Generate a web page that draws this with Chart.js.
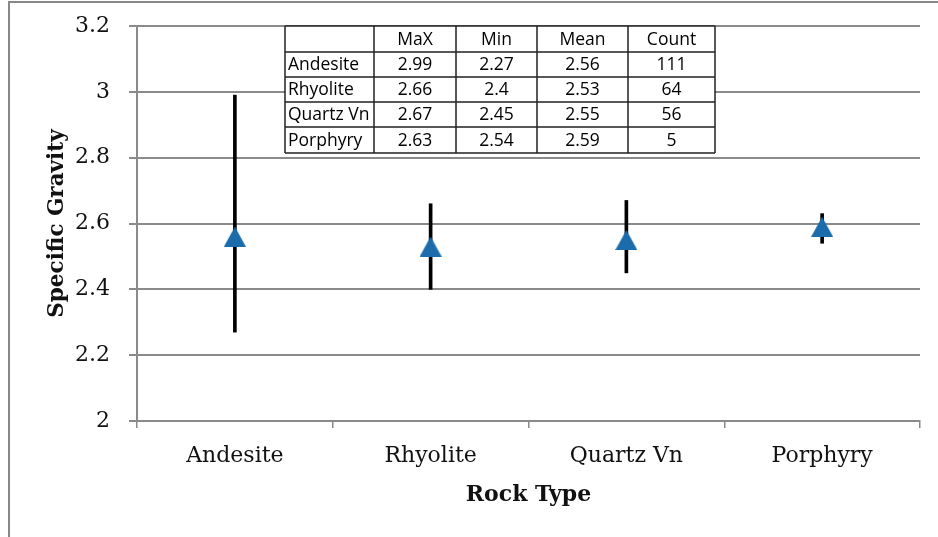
<!DOCTYPE html>
<html>
<head>
<meta charset="utf-8">
<title>Specific Gravity by Rock Type</title>
<script src="https://cdn.jsdelivr.net/npm/chart.js@4/dist/chart.umd.min.js"></script>
<style>
  html, body { margin: 0; padding: 0; background: #ffffff; }
  canvas { display: block; }
</style>
</head>
<body>
<canvas id="sg" width="938" height="537"></canvas>
<script>
// Rock types and their specific-gravity statistics
const categories = ['Andesite', 'Rhyolite', 'Quartz Vn', 'Porphyry'];
const maxValues  = [2.99, 2.66, 2.67, 2.63];
const minValues  = [2.27, 2.4, 2.45, 2.54];
const meanValues = [2.56, 2.53, 2.55, 2.59];
const counts     = [111, 64, 56, 5];
const tableHeaders = ['MaX', 'Min', 'Mean', 'Count'];
const yTicks = { min: 2, max: 3.2, step: 0.2 };

const SERIF = '"DejaVu Serif", "Liberation Serif", serif';
const SANS = '"Open Sans", "Liberation Sans", sans-serif';
const GRID = '#8a8a8a';
const MARKER = '#1c6cac';

// Triangle marker centred on its bounding box
function triangleMarker(w, h, color) {
  const c = document.createElement('canvas');
  c.width = w; c.height = h;
  const g = c.getContext('2d');
  g.fillStyle = color;
  g.beginPath();
  g.moveTo(w / 2, 0);
  g.lineTo(w, h);
  g.lineTo(0, h);
  g.closePath();
  g.fill();
  return c;
}

// White page with the frame edges on the left and top
const framePlugin = {
  id: 'frame',
  beforeDraw(chart) {
    const ctx = chart.ctx;
    ctx.save();
    ctx.fillStyle = '#ffffff';
    ctx.fillRect(0, 0, chart.width, chart.height);
    ctx.strokeStyle = '#888888';
    ctx.lineWidth = 2;
    ctx.beginPath();
    ctx.moveTo(9, chart.height);
    ctx.lineTo(9, 2);
    ctx.lineTo(chart.width, 2);
    ctx.stroke();
    ctx.restore();
  }
};

// Summary table laid over the upper part of the plot
const tableLayout = {
  cols: [285, 374, 456, 537, 628, 715],
  rows: [26, 52, 77, 102, 127, 153]
};
const statsTablePlugin = {
  id: 'statsTable',
  afterDraw(chart) {
    const ctx = chart.ctx;
    const { cols, rows } = tableLayout;
    const x0 = cols[0], x1 = cols[cols.length - 1];
    const y0 = rows[0], y1 = rows[rows.length - 1];
    ctx.save();
    ctx.fillStyle = '#ffffff';
    ctx.fillRect(x0, y0, x1 - x0, y1 - y0);
    ctx.strokeStyle = '#222222';
    ctx.lineWidth = 1.5;
    ctx.beginPath();
    rows.forEach(y => { ctx.moveTo(x0, y); ctx.lineTo(x1, y); });
    cols.forEach(x => { ctx.moveTo(x, y0); ctx.lineTo(x, y1); });
    ctx.stroke();

    ctx.fillStyle = '#000000';
    ctx.font = '17.5px ' + SANS;
    ctx.textBaseline = 'middle';
    const mid = (a, b) => (a + b) / 2;
    // header row
    ctx.textAlign = 'center';
    tableHeaders.forEach((h, j) => {
      ctx.fillText(h, mid(cols[j + 1], cols[j + 2]), mid(rows[0], rows[1]) + 1);
    });
    // one row per rock type
    categories.forEach((name, i) => {
      const yc = mid(rows[i + 1], rows[i + 2]) + 1;
      ctx.textAlign = 'left';
      ctx.fillText(name, cols[0] + 3, yc);
      ctx.textAlign = 'center';
      const cells = [maxValues[i], minValues[i], meanValues[i], counts[i]];
      cells.forEach((v, j) => {
        ctx.fillText(String(v), mid(cols[j + 1], cols[j + 2]), yc);
      });
    });
    ctx.restore();
  }
};

function draw() {
  new Chart(document.getElementById('sg'), {
    type: 'bar',
    data: {
      labels: categories,
      datasets: [
        {
          // mean values as triangles, drawn above the range bars
          type: 'line',
          label: 'Mean',
          data: meanValues,
          showLine: false,
          pointStyle: triangleMarker(22, 20, MARKER),
          pointRadius: 11,
          order: 0
        },
        {
          // min-to-max range as a thin floating bar
          label: 'Range',
          data: categories.map((_, i) => [minValues[i], maxValues[i]]),
          backgroundColor: '#000000',
          borderWidth: 0,
          barThickness: 3,
          order: 1
        }
      ]
    },
    options: {
      responsive: false,
      animation: false,
      events: [],
      layout: { padding: { top: 26, right: 18, left: 0, bottom: 0 } },
      plugins: {
        legend: { display: false },
        tooltip: { enabled: false }
      },
      scales: {
        x: {
          afterFit(scale) { scale.height = 116; },
          grid: {
            display: true,
            drawOnChartArea: false,
            drawTicks: true,
            tickLength: 7,
            color: GRID,
            lineWidth: 1.5,
            offset: true
          },
          border: { display: true, color: GRID, width: 2 },
          ticks: {
            color: '#111111',
            font: { family: SERIF, size: 22 },
            padding: 15
          },
          title: {
            display: true,
            text: 'Rock Type',
            color: '#111111',
            font: { family: SERIF, size: 22, weight: 'bold' },
            padding: { top: 0, bottom: 29 }
          }
        },
        y: {
          min: yTicks.min,
          max: yTicks.max,
          afterFit(scale) {
            scale.width = 137;
            scale.paddingTop = 0;
            scale.paddingBottom = 0;
          },
          grid: {
            color: GRID,
            lineWidth: 2,
            drawTicks: true,
            tickLength: 8
          },
          border: { display: true, color: GRID, width: 2 },
          ticks: {
            stepSize: yTicks.step,
            color: '#111111',
            font: { family: SERIF, size: 22 },
            padding: 19,
            callback: v => String(Number(v.toFixed(1)))
          },
          title: {
            display: true,
            text: 'Specific Gravity',
            color: '#111111',
            font: { family: SERIF, size: 21.5, weight: 'bold' },
            padding: { top: 45, bottom: 0 }
          }
        }
      }
    },
    plugins: [framePlugin, statsTablePlugin]
  });
}

Promise.all([
  document.fonts.load('22px "DejaVu Serif"'),
  document.fonts.load('bold 22px "DejaVu Serif"'),
  document.fonts.load('17.5px "Open Sans"')
]).catch(() => {}).then(draw);
</script>
</body>
</html>
